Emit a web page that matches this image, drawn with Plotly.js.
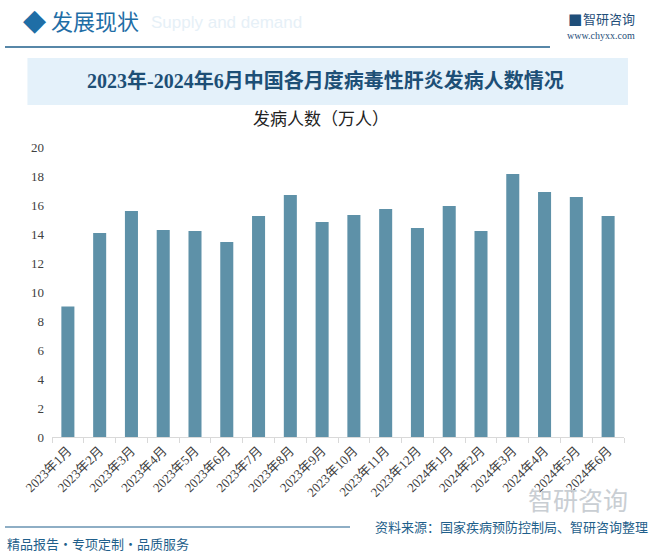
<!DOCTYPE html>
<html><head><meta charset="utf-8">
<script src="https://cdn.plot.ly/plotly-3.0.1.min.js"></script>
<style>body{margin:0;padding:0;background:#fff}#chart{width:653px;height:555px}</style>
</head><body><div id="chart"></div>
<script>
const categories = ["2023年1月","2023年2月","2023年3月","2023年4月","2023年5月","2023年6月","2023年7月","2023年8月","2023年9月","2023年10月","2023年11月","2023年12月","2024年1月","2024年2月","2024年3月","2024年4月","2024年5月","2024年6月"];
const cases = [9.0, 14.07, 15.59, 14.28, 14.2, 13.45, 15.24, 16.69, 14.83, 15.31, 15.72, 14.41, 15.93, 14.2, 18.14, 16.9, 16.55, 15.24];
const yTicks = [0,2,4,6,8,10,12,14,16,18,20];

const serif = "'Liberation Serif', 'Times New Roman', 'Noto Sans CJK SC', serif";
const cjk = "'Noto Sans CJK SC', sans-serif";

const trace = {
  type: 'bar', x: categories, y: cases,
  marker: {color: '#5e91a8'},
  hoverinfo: 'x+y'
};

const layout = {
  width: 653, height: 555,
  margin: {l: 52, r: 29, t: 147, b: 118},
  paper_bgcolor: '#ffffff', plot_bgcolor: 'rgba(0,0,0,0)',
  showlegend: false,
  bargap: 0.59,
  xaxis: {
    type: 'category', showgrid: false, zeroline: false,
    showline: true, linecolor: '#d9d9d9', linewidth: 1,
    ticks: 'outside', tickson: 'boundaries', ticklen: 5, tickcolor: '#d9d9d9',
    tickangle: -45, tickfont: {family: serif, size: 13, color: '#404040'}
  },
  yaxis: {
    range: [0, 20], tickvals: yTicks, showgrid: false, zeroline: false, showline: false,
    ticks: '', ticklabelstandoff: 7, tickfont: {family: serif, size: 13, color: '#404040'}
  },
  shapes: [
    {type:'rect', xref:'paper', yref:'paper', x0:-0.0429, x1:1.0069, y0:1.1448, y1:1.3069, fillcolor:'#e4f1fa', line:{width:0}, layer:'below'},
    {type:'line', xref:'paper', yref:'paper', x0:-0.0822, x1:0.8706, y0:1.345, y1:1.345, line:{color:'#1f5f8b', width:1.5}},
    {type:'line', xref:'paper', yref:'paper', x0:-0.0822, x1:0.521, y0:-0.3103, y1:-0.3103, line:{color:'#1f5f8b', width:1.2}}
  ],
  annotations: [
    {xref:'paper', yref:'paper', x:0.17, y:1.43, text:'Supply and demand', showarrow:false, xanchor:'left', yanchor:'middle', font:{family:"'Liberation Sans', Arial, sans-serif", size:17, color:'#e6f0f7'}},
    {xref:'paper', yref:'paper', x:-0.03, y:1.438, text:'◆', showarrow:false, xanchor:'center', yanchor:'middle', font:{family:"'DejaVu Sans'", size:30, color:'#1f6ea6'}},
    {xref:'paper', yref:'paper', x:-0.005, y:1.438, text:'发展现状', showarrow:false, xanchor:'left', yanchor:'middle', font:{family:cjk, size:22, color:'#1f6ea6'}},
    {xref:'paper', yref:'paper', x:1.023, y:1.443, text:'智研咨询', showarrow:false, xanchor:'right', yanchor:'middle', font:{family:cjk, size:13, color:'#1f4e79'}},
    {xref:'paper', yref:'paper', x:0.93, y:1.443, text:'■', showarrow:false, xanchor:'right', yanchor:'middle', font:{family:"'DejaVu Sans'", size:15, color:'#1f4e79'}},
    {xref:'paper', yref:'paper', x:1.023, y:1.383, text:'www.chyxx.com', showarrow:false, xanchor:'right', yanchor:'middle', font:{family:serif, size:10, color:'#1f4e79'}},
    {xref:'paper', yref:'paper', x:0.478, y:1.228, text:'<b>2023年-2024年6月中国各月度病毒性肝炎发病人数情况</b>', showarrow:false, xanchor:'center', yanchor:'middle', font:{family:"'Liberation Serif', 'Noto Sans CJK SC', serif", size:20, color:'#1d4f76'}},
    {xref:'paper', yref:'paper', x:0.471, y:1.103, text:'发病人数（万人）', showarrow:false, xanchor:'center', yanchor:'middle', font:{family:cjk, size:17, color:'#222222'}},
    {xref:'paper', yref:'paper', x:1.045, y:-0.31, text:'资料来源：国家疾病预防控制局、智研咨询整理', showarrow:false, xanchor:'right', yanchor:'middle', font:{family:cjk, size:13, color:'#1f5f8b'}},
    {xref:'paper', yref:'paper', x:-0.082, y:-0.366, text:'精品报告・专项定制・品质服务', showarrow:false, xanchor:'left', yanchor:'middle', font:{family:cjk, size:13, color:'#1f5f8b'}},
    {xref:'paper', yref:'paper', x:1.01, y:-0.215, text:'智研咨询', showarrow:false, xanchor:'right', yanchor:'middle', font:{family:cjk, size:25, color:'#c9ced3'}}
  ]
};
Plotly.newPlot('chart', [trace], layout, {displayModeBar: false, staticPlot: true});
</script></body></html>
